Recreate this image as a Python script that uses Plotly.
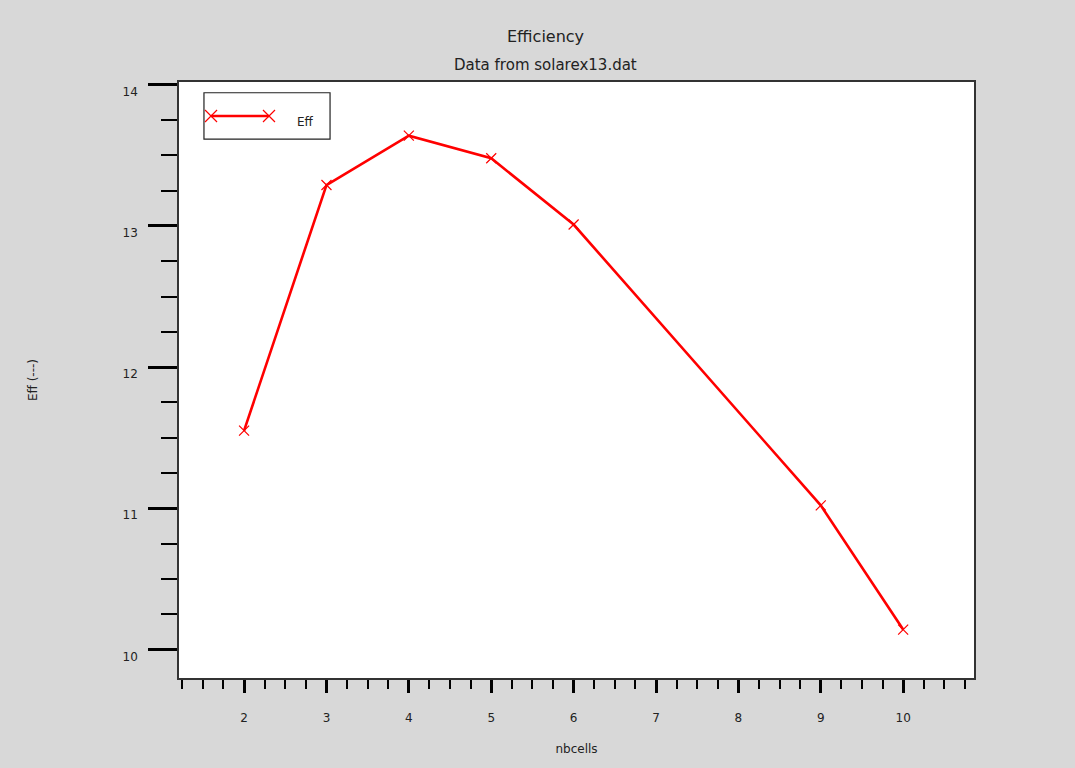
import plotly.graph_objects as go

# Efficiency versus number of cells, from solarex13.dat
nbcells = [2, 3, 4, 5, 6, 9, 10]
eff = [11.55, 13.29, 13.64, 13.48, 13.01, 11.02, 10.14]

x_ticks = [2, 3, 4, 5, 6, 7, 8, 9, 10]
y_ticks = [10, 11, 12, 13, 14]

RED = "#ff0000"
FONT = "DejaVu Sans"
BG = "#d8d8d8"

fig = go.Figure()

fig.add_trace(go.Scatter(
    x=nbcells, y=eff, mode="lines+markers", name="Eff",
    line=dict(color=RED, width=2.6),
    marker=dict(symbol="x-thin", size=10, line=dict(color=RED, width=1.2)),
    showlegend=False,
))

# Legend sample drawn on an overlay axis spanning the plot area (0..1)
fig.add_trace(go.Scatter(
    x=[0.0403, 0.1132], y=[0.943, 0.943], mode="lines+markers",
    xaxis="x2", yaxis="y2", showlegend=False, hoverinfo="skip",
    line=dict(color=RED, width=2.6),
    marker=dict(symbol="x-thin", size=12, line=dict(color=RED, width=1.2)),
))

axis_common = dict(
    showgrid=False, zeroline=False,
    showline=True, linecolor="#333333", linewidth=1.5, mirror=True,
    ticks="outside", tickcolor="#000000",
    tickfont=dict(family=FONT, size=12, color="#222222"),
)

fig.update_layout(
    width=1075, height=768,
    paper_bgcolor=BG, plot_bgcolor="#ffffff",
    margin=dict(l=179, r=101, t=82, b=90),
    font=dict(family=FONT, color="#222222"),
    xaxis=dict(
        **axis_common,
        range=[1.21, 10.86],
        tickvals=x_ticks, ticktext=[str(v) for v in x_ticks],
        ticklen=13, tickwidth=2.5,
        ticklabelstandoff=15,
        minor=dict(dtick=0.25, tick0=0, ticks="outside", ticklen=9,
                   tickwidth=1.5, tickcolor="#000000"),
        title=dict(text="nbcells", font=dict(family=FONT, size=12, color="#222222"),
                   standoff=20),
    ),
    yaxis=dict(
        **axis_common,
        range=[9.797, 14.02],
        tickvals=y_ticks, ticktext=[str(v) for v in y_ticks],
        ticklen=29, tickwidth=2.5,
        ticklabelstandoff=8, ticklabelshift=7,
        minor=dict(dtick=0.25, tick0=0, ticks="outside", ticklen=16,
                   tickwidth=1.5, tickcolor="#000000"),
        title=dict(text="Eff (---)", font=dict(family=FONT, size=12, color="#222222"),
                   standoff=82),
    ),
    xaxis2=dict(overlaying="x", range=[0, 1], visible=False, fixedrange=True),
    yaxis2=dict(overlaying="y", range=[0, 1], visible=False, fixedrange=True),
    shapes=[
        dict(type="rect", xref="paper", yref="paper",
             x0=0.0314, x1=0.19, y0=0.904, y1=0.982,
             line=dict(color="#222222", width=1.2), fillcolor="rgba(0,0,0,0)"),
    ],
    annotations=[
        dict(text="Eff", xref="paper", yref="paper", x=0.146, y=0.933,
             xanchor="left", yanchor="middle", showarrow=False,
             font=dict(family=FONT, size=12, color="#222222")),
        dict(text="Efficiency", xref="paper", yref="paper", x=0.4604, y=1.077,
             xanchor="center", yanchor="middle", showarrow=False,
             font=dict(family=FONT, size=16, color="#222222")),
        dict(text="Data from solarex13.dat", xref="paper", yref="paper",
             x=0.4604, y=1.0285, xanchor="center", yanchor="middle",
             showarrow=False, font=dict(family=FONT, size=15, color="#222222")),
    ],
)

fig.write_html("out.html")
